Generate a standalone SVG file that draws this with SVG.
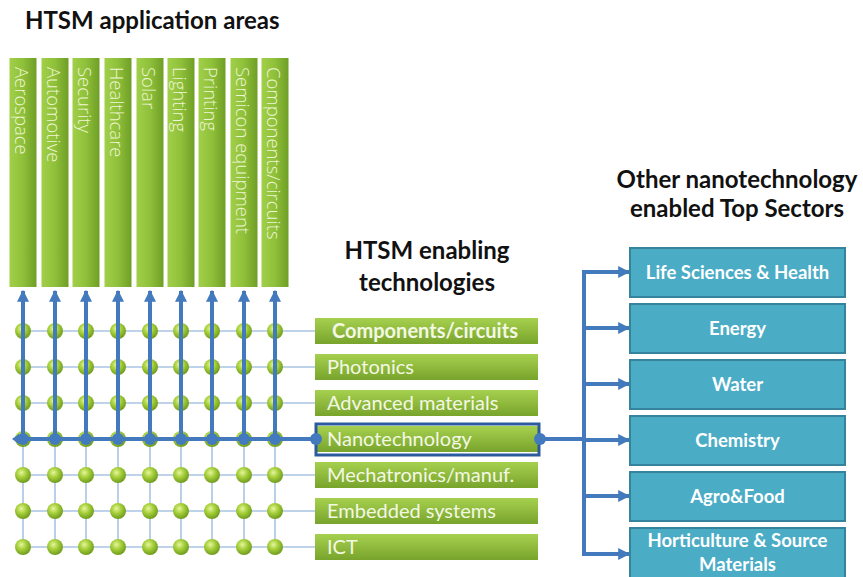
<svg xmlns="http://www.w3.org/2000/svg" width="863" height="577" viewBox="0 0 863 577">
<defs>
<linearGradient id="barG" x1="0" y1="0" x2="1" y2="0">
<stop offset="0" stop-color="#a2cf48"/><stop offset="0.5" stop-color="#8fc03a"/><stop offset="1" stop-color="#6f9e26"/>
</linearGradient>
<linearGradient id="techG" x1="0" y1="0" x2="0" y2="1">
<stop offset="0" stop-color="#a6d04e"/><stop offset="1" stop-color="#78a42c"/>
</linearGradient>
<radialGradient id="dotG" cx="0.4" cy="0.35" r="0.65">
<stop offset="0" stop-color="#e6f5a0"/><stop offset="0.45" stop-color="#a8d13c"/><stop offset="1" stop-color="#6f9c1e"/>
</radialGradient>
<marker id="ah" viewBox="0 0 10 10" refX="9" refY="5" markerWidth="3" markerHeight="3" orient="auto" markerUnits="strokeWidth">
<path d="M0,0 L10,5 L0,10 z" fill="#4379bd"/>
</marker>
</defs>
<style>
.title{font-family:Lato,"Liberation Sans",sans-serif;font-weight:bold;font-size:24px;fill:#111}
.bar{fill:url(#barG)}
.vt{font-family:"Open Sans","Liberation Sans",sans-serif;font-size:18.5px;fill:#eef5d6;font-weight:300}
.tech rect{fill:url(#techG)}
.tt{font-family:Lato,"Liberation Sans",sans-serif;font-size:20px;fill:#f3f8e4}
.sector rect{fill:#4bacc6;stroke:#35849b;stroke-width:2}
.st{font-family:Lato,"Liberation Sans",sans-serif;font-size:18.5px;font-weight:bold;fill:#fff;text-anchor:middle}
.thin{stroke:#a9c3e3;stroke-width:1.6;fill:none}
.thick{stroke:#4379bd;stroke-width:4;fill:none}
.gd{fill:url(#dotG)}
.bd{fill:#4379bd}
</style>
<rect width="863" height="577" fill="#fff"/>
<text class="title" x="25" y="29">HTSM application areas</text>
<text class="title" x="427" y="259" text-anchor="middle">HTSM enabling</text>
<text class="title" x="427" y="291" text-anchor="middle">technologies</text>
<text class="title" x="737" y="188" text-anchor="middle">Other nanotechnology</text>
<text class="title" x="737" y="217" text-anchor="middle">enabled Top Sectors</text>

<g id="areas">
<g id="a-aerospace"><rect class="bar" x="9.5" y="58" width="27" height="229"/><text class="vt" transform="translate(15,67) rotate(90)">Aerospace</text></g>
<g id="a-automotive"><rect class="bar" x="41.5" y="58" width="27" height="229"/><text class="vt" transform="translate(47,67) rotate(90)">Automotive</text></g>
<g id="a-security"><rect class="bar" x="72.5" y="58" width="27" height="229"/><text class="vt" transform="translate(78,67) rotate(90)">Security</text></g>
<g id="a-healthcare"><rect class="bar" x="104.5" y="58" width="27" height="229"/><text class="vt" transform="translate(110,67) rotate(90)">Healthcare</text></g>
<g id="a-solar"><rect class="bar" x="136.5" y="58" width="27" height="229"/><text class="vt" transform="translate(142,67) rotate(90)">Solar</text></g>
<g id="a-lighting"><rect class="bar" x="167.5" y="58" width="27" height="229"/><text class="vt" transform="translate(173,67) rotate(90)">Lighting</text></g>
<g id="a-printing"><rect class="bar" x="198.5" y="58" width="27" height="229"/><text class="vt" transform="translate(204,67) rotate(90)">Printing</text></g>
<g id="a-semicon"><rect class="bar" x="230.5" y="58" width="27" height="229"/><text class="vt" transform="translate(236,67) rotate(90)">Semicon equipment</text></g>
<g id="a-components"><rect class="bar" x="261.5" y="58" width="27" height="229"/><text class="vt" transform="translate(267,67) rotate(90)">Components/circuits</text></g>
</g>

<g id="connectors">
<path class="thin" d="M23,331H315M23,367H315M23,403H315M23,475H315M23,511H315M23,547H315"/>
<path class="thin" d="M23,331V547M55,331V547M86,331V547M118,331V547M150,331V547M181,331V547M212,331V547M244,331V547M275,331V547"/>
<g id="grid-dots">
<g class="gd">
<circle cx="23" cy="331" r="8"/><circle cx="55" cy="331" r="8"/><circle cx="86" cy="331" r="8"/><circle cx="118" cy="331" r="8"/><circle cx="150" cy="331" r="8"/><circle cx="181" cy="331" r="8"/><circle cx="212" cy="331" r="8"/><circle cx="244" cy="331" r="8"/><circle cx="275" cy="331" r="8"/>
<circle cx="23" cy="367" r="8"/><circle cx="55" cy="367" r="8"/><circle cx="86" cy="367" r="8"/><circle cx="118" cy="367" r="8"/><circle cx="150" cy="367" r="8"/><circle cx="181" cy="367" r="8"/><circle cx="212" cy="367" r="8"/><circle cx="244" cy="367" r="8"/><circle cx="275" cy="367" r="8"/>
<circle cx="23" cy="403" r="8"/><circle cx="55" cy="403" r="8"/><circle cx="86" cy="403" r="8"/><circle cx="118" cy="403" r="8"/><circle cx="150" cy="403" r="8"/><circle cx="181" cy="403" r="8"/><circle cx="212" cy="403" r="8"/><circle cx="244" cy="403" r="8"/><circle cx="275" cy="403" r="8"/>
<circle cx="23" cy="439" r="8"/><circle cx="55" cy="439" r="8"/><circle cx="86" cy="439" r="8"/><circle cx="118" cy="439" r="8"/><circle cx="150" cy="439" r="8"/><circle cx="181" cy="439" r="8"/><circle cx="212" cy="439" r="8"/><circle cx="244" cy="439" r="8"/><circle cx="275" cy="439" r="8"/>
<circle cx="23" cy="475" r="8"/><circle cx="55" cy="475" r="8"/><circle cx="86" cy="475" r="8"/><circle cx="118" cy="475" r="8"/><circle cx="150" cy="475" r="8"/><circle cx="181" cy="475" r="8"/><circle cx="212" cy="475" r="8"/><circle cx="244" cy="475" r="8"/><circle cx="275" cy="475" r="8"/>
<circle cx="23" cy="511" r="8"/><circle cx="55" cy="511" r="8"/><circle cx="86" cy="511" r="8"/><circle cx="118" cy="511" r="8"/><circle cx="150" cy="511" r="8"/><circle cx="181" cy="511" r="8"/><circle cx="212" cy="511" r="8"/><circle cx="244" cy="511" r="8"/><circle cx="275" cy="511" r="8"/>
<circle cx="23" cy="547" r="8"/><circle cx="55" cy="547" r="8"/><circle cx="86" cy="547" r="8"/><circle cx="118" cy="547" r="8"/><circle cx="150" cy="547" r="8"/><circle cx="181" cy="547" r="8"/><circle cx="212" cy="547" r="8"/><circle cx="244" cy="547" r="8"/><circle cx="275" cy="547" r="8"/>
</g>
</g>
<path class="thick" d="M15,439H584"/>
<path class="bd" d="M12,439L19,434V444z"/>
<g marker-end="url(#ah)">
<path class="thick" d="M23,439V291"/><path class="thick" d="M55,439V291"/><path class="thick" d="M86,439V291"/><path class="thick" d="M118,439V291"/><path class="thick" d="M150,439V291"/><path class="thick" d="M181,439V291"/><path class="thick" d="M212,439V291"/><path class="thick" d="M244,439V291"/><path class="thick" d="M275,439V291"/>
</g>
<g class="bd">
<circle cx="23" cy="439" r="6"/><circle cx="55" cy="439" r="6"/><circle cx="86" cy="439" r="6"/><circle cx="118" cy="439" r="6"/><circle cx="150" cy="439" r="6"/><circle cx="181" cy="439" r="6"/><circle cx="212" cy="439" r="6"/><circle cx="244" cy="439" r="6"/><circle cx="275" cy="439" r="6"/>
</g>
<path class="thick" d="M584,272V555"/>
<g marker-end="url(#ah)">
<path class="thick" d="M582,272H629"/><path class="thick" d="M584,328H629"/><path class="thick" d="M584,384H629"/><path class="thick" d="M584,440H629"/><path class="thick" d="M584,496H629"/><path class="thick" d="M582,554H629"/>
</g>
</g>

<g id="technologies">
<g id="t-components" class="tech"><rect x="315" y="318" width="223" height="26"/><text class="tt" x="332" y="338" font-weight="bold" font-size="19.5">Components/circuits</text></g>
<g id="t-photonics" class="tech"><rect x="315" y="354" width="223" height="26"/><text class="tt" x="327" y="374">Photonics</text></g>
<g id="t-advanced" class="tech"><rect x="315" y="390" width="223" height="26"/><text class="tt" x="327" y="410">Advanced materials</text></g>
<g id="t-nano" class="tech"><rect x="315" y="426" width="223" height="26"/><rect x="316" y="424" width="223" height="31" fill="none" stroke="#2b5b9c" stroke-width="3" style="fill:none"/><text class="tt" x="327" y="446">Nanotechnology</text>
<circle class="bd" cx="316" cy="439" r="6"/><circle class="bd" cx="540" cy="439" r="6"/></g>
<g id="t-mecha" class="tech"><rect x="315" y="462" width="223" height="26"/><text class="tt" x="327" y="482">Mechatronics/manuf.</text></g>
<g id="t-embedded" class="tech"><rect x="315" y="498" width="223" height="26"/><text class="tt" x="327" y="518">Embedded systems</text></g>
<g id="t-ict" class="tech"><rect x="315" y="534" width="223" height="26"/><text class="tt" x="327" y="554">ICT</text></g>
</g>

<g id="sectors">
<g id="s-life" class="sector"><rect x="630" y="248" width="215" height="49"/><text class="st" x="737.5" y="279">Life Sciences &amp; Health</text></g>
<g id="s-energy" class="sector"><rect x="630" y="304" width="215" height="49"/><text class="st" x="737.5" y="335">Energy</text></g>
<g id="s-water" class="sector"><rect x="630" y="360" width="215" height="49"/><text class="st" x="737.5" y="391">Water</text></g>
<g id="s-chem" class="sector"><rect x="630" y="416" width="215" height="49"/><text class="st" x="737.5" y="447">Chemistry</text></g>
<g id="s-agro" class="sector"><rect x="630" y="472" width="215" height="49"/><text class="st" x="737.5" y="503">Agro&amp;Food</text></g>
<g id="s-horti" class="sector"><rect x="630" y="528" width="215" height="52"/><text class="st" x="737.5" y="547">Horticulture &amp; Source</text><text class="st" x="737.5" y="571">Materials</text></g>
</g>
</svg>
